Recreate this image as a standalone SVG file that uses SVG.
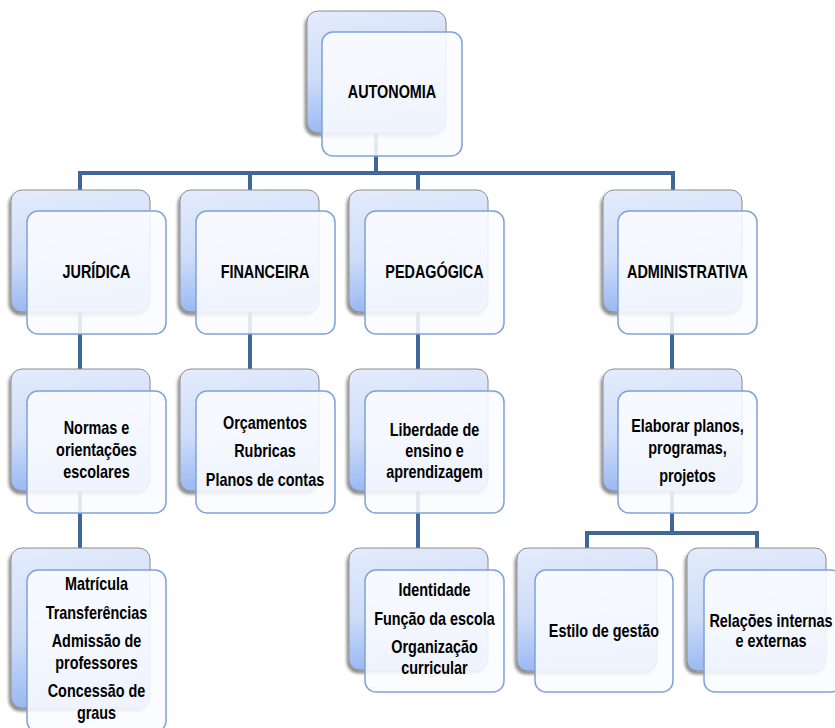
<svg xmlns="http://www.w3.org/2000/svg" width="835" height="728" viewBox="0 0 835 728">
  <defs>
    <linearGradient id="backFill" x1="0" y1="0" x2="0.15" y2="1">
      <stop offset="0" stop-color="#e4ecfc"/>
      <stop offset="0.55" stop-color="#cfddf9"/>
      <stop offset="1" stop-color="#98b8f2"/>
    </linearGradient>
    <filter id="shadow" x="-20%" y="-20%" width="140%" height="140%">
      <feGaussianBlur in="SourceAlpha" stdDeviation="1.8"/>
      <feOffset dx="-2" dy="3" result="blur"/>
      <feComponentTransfer><feFuncA type="linear" slope="0.45"/></feComponentTransfer>
      <feMerge><feMergeNode/><feMergeNode in="SourceGraphic"/></feMerge>
    </filter>
    <style>
      .back { fill: url(#backFill); stroke: #8c8c8c; stroke-width: 1; filter: url(#shadow); }
      .front { fill: #fafcff; fill-opacity: 0.88; stroke: #7fa3d6; stroke-width: 1.5; }
      .link { fill: none; stroke: #3f6798; stroke-width: 4; stroke-linejoin: miter; }
      text { font-family: "Liberation Sans", Arial, sans-serif; font-weight: bold; font-size: 18px; fill: #000; text-anchor: middle; }
    </style>
  </defs>
  <rect width="835" height="728" fill="#ffffff"/>

  <!-- connectors -->
  <g id="connectors">
    <path class="link" d="M376 133 V175 M80 190 V173 H673 V190 M250 173 V190 M418 173 V190"/>
    <path class="link" d="M80 312 V369 M80 491 V548"/>
    <path class="link" d="M250 312 V369"/>
    <path class="link" d="M418 312 V369 M418 491 V548"/>
    <path class="link" d="M672 312 V369 M672 491 V533 M587 548 V533 H757 V548"/>
  </g>

  <!-- root; labels are condensed horizontally to a narrow face -->
  <g id="autonomia">
    <rect class="back" x="307" y="11" width="139" height="122" rx="11"/>
    <rect class="front" x="322" y="32" width="140" height="124" rx="11"/>
    <text transform="translate(392 98) scale(0.8 1)">AUTONOMIA</text>
  </g>

  <!-- level 1 -->
  <g id="juridica">
    <rect class="back" x="11" y="190" width="139" height="122" rx="11"/>
    <rect class="front" x="27" y="211" width="139" height="123" rx="11"/>
    <text transform="translate(96.5 278) scale(0.8 1)">JURÍDICA</text>
  </g>
  <g id="financeira">
    <rect class="back" x="180" y="190" width="139" height="122" rx="11"/>
    <rect class="front" x="196" y="211" width="139" height="123" rx="11"/>
    <text transform="translate(265 278) scale(0.8 1)">FINANCEIRA</text>
  </g>
  <g id="pedagogica">
    <rect class="back" x="349" y="190" width="139" height="122" rx="11"/>
    <rect class="front" x="365" y="211" width="139" height="123" rx="11"/>
    <text transform="translate(434.5 278) scale(0.8 1)">PEDAGÓGICA</text>
  </g>
  <g id="administrativa">
    <rect class="back" x="603" y="190" width="139" height="122" rx="11"/>
    <rect class="front" x="618" y="211" width="139" height="123" rx="11"/>
    <text transform="translate(687.5 278) scale(0.8 1)">ADMINISTRATIVA</text>
  </g>

  <!-- level 2 -->
  <g id="normas">
    <rect class="back" x="11" y="369" width="139" height="122" rx="11"/>
    <rect class="front" x="27" y="391" width="139" height="122" rx="11"/>
    <text transform="translate(96.5 434) scale(0.8 1)">Normas e</text>
    <text transform="translate(96.5 456) scale(0.8 1)">orientações</text>
    <text transform="translate(96.5 478) scale(0.8 1)">escolares</text>
  </g>
  <g id="orcamentos">
    <rect class="back" x="180" y="369" width="139" height="122" rx="11"/>
    <rect class="front" x="196" y="391" width="139" height="122" rx="11"/>
    <text transform="translate(265 429) scale(0.8 1)">Orçamentos</text>
    <text transform="translate(265 457) scale(0.8 1)">Rubricas</text>
    <text transform="translate(265 486) scale(0.8 1)">Planos de contas</text>
  </g>
  <g id="liberdade">
    <rect class="back" x="349" y="369" width="139" height="122" rx="11"/>
    <rect class="front" x="365" y="391" width="139" height="122" rx="11"/>
    <text transform="translate(434.5 436) scale(0.8 1)">Liberdade de</text>
    <text transform="translate(434.5 457) scale(0.8 1)">ensino e</text>
    <text transform="translate(434.5 478) scale(0.8 1)">aprendizagem</text>
  </g>
  <g id="elaborar">
    <rect class="back" x="603" y="369" width="139" height="122" rx="11"/>
    <rect class="front" x="618" y="391" width="139" height="122" rx="11"/>
    <text transform="translate(687.5 432) scale(0.8 1)">Elaborar planos,</text>
    <text transform="translate(687.5 454) scale(0.8 1)">programas,</text>
    <text transform="translate(687.5 482) scale(0.8 1)">projetos</text>
  </g>

  <!-- level 3 -->
  <g id="matricula">
    <rect class="back" x="11" y="548" width="139" height="160" rx="11"/>
    <rect class="front" x="27" y="570" width="139" height="162" rx="11"/>
    <text transform="translate(96.5 590) scale(0.8 1)">Matrícula</text>
    <text transform="translate(96.5 619) scale(0.8 1)">Transferências</text>
    <text transform="translate(96.5 647) scale(0.8 1)">Admissão de</text>
    <text transform="translate(96.5 669) scale(0.8 1)">professores</text>
    <text transform="translate(96.5 697) scale(0.8 1)">Concessão de</text>
    <text transform="translate(96.5 719) scale(0.8 1)">graus</text>
  </g>
  <g id="identidade">
    <rect class="back" x="349" y="548" width="139" height="122" rx="11"/>
    <rect class="front" x="365" y="570" width="139" height="122" rx="11"/>
    <text transform="translate(434.5 596) scale(0.8 1)">Identidade</text>
    <text transform="translate(434.5 625) scale(0.8 1)">Função da escola</text>
    <text transform="translate(434.5 653) scale(0.8 1)">Organização</text>
    <text transform="translate(434.5 674) scale(0.8 1)">curricular</text>
  </g>
  <g id="estilo">
    <rect class="back" x="517" y="548" width="140" height="123" rx="11"/>
    <rect class="front" x="535" y="570" width="138" height="122" rx="11"/>
    <text transform="translate(604 637) scale(0.8 1)">Estilo de gestão</text>
  </g>
  <g id="relacoes">
    <rect class="back" x="687" y="548" width="139" height="123" rx="11"/>
    <rect class="front" x="704" y="570" width="138" height="122" rx="11"/>
    <text transform="translate(771 627) scale(0.8 1)">Relações internas</text>
    <text transform="translate(771 647) scale(0.8 1)">e externas</text>
  </g>
</svg>
